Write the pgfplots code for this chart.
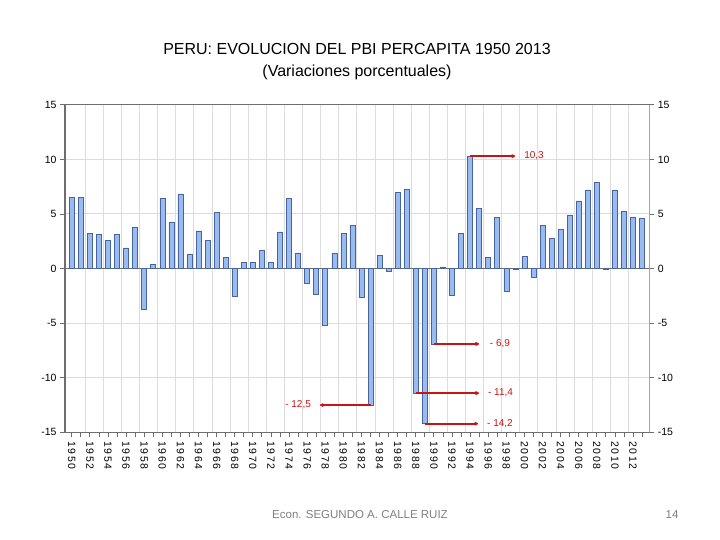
\documentclass[border=0pt]{standalone}
\usepackage{pgfplots}
\pgfplotsset{compat=1.18}
\usepackage{pgfplotstable}
\usepackage{fontspec}
\setmainfont{Liberation Sans}
\usetikzlibrary{arrows.meta}
\definecolor{barfill}{RGB}{153,187,240}
\definecolor{baredge}{RGB}{70,100,160}
\definecolor{annot}{RGB}{200,20,20}
\definecolor{gridc}{RGB}{220,220,220}
\definecolor{axc}{RGB}{110,110,110}

\pgfplotstableread{
year val
1950 6.50
1951 6.55
1952 3.20
1953 3.10
1954 2.60
1955 3.10
1956 1.90
1957 3.76
1958 -3.76
1959 0.37
1960 6.45
1961 4.28
1962 6.85
1963 1.28
1964 3.45
1965 2.60
1966 5.17
1967 1.00
1968 -2.57
1969 0.60
1970 0.55
1971 1.70
1972 0.60
1973 3.37
1974 6.40
1975 1.44
1976 -1.34
1977 -2.38
1978 -5.20
1979 1.38
1980 3.20
1981 3.94
1982 -2.60
1983 -12.50
1984 1.19
1985 -0.20
1986 6.97
1987 7.28
1988 -11.40
1989 -14.20
1990 -6.90
1991 0.16
1992 -2.40
1993 3.20
1994 10.30
1995 5.48
1996 1.00
1997 4.68
1998 -2.05
1999 -0.10
2000 1.10
2001 -0.83
2002 3.95
2003 2.75
2004 3.60
2005 4.90
2006 6.20
2007 7.20
2008 7.88
2009 -0.05
2010 7.20
2011 5.26
2012 4.74
2013 4.62
}\pbi

\begin{document}
\begin{tikzpicture}[x=1pt,y=1pt]
\useasboundingbox (0,0) rectangle (720,540);
\fill[white] (0,0) rectangle (720,540);
\node[font=\fontsize{16}{19}\selectfont] at (357,491) {PERU: EVOLUCION DEL PBI PERCAPITA 1950 2013};
\node[font=\fontsize{16}{19}\selectfont] at (357,468) {(Variaciones porcentuales)};
\node[font=\fontsize{11.5}{14}\selectfont, text=gray] at (360,25) {Econ. SEGUNDO A. CALLE RUIZ};
\node[font=\fontsize{11.5}{14}\selectfont, text=gray] at (672,25) {14};

\begin{axis}[
  at={(65pt,107.6pt)}, anchor=south west,
  scale only axis, width=584.3pt, height=327.6pt,
  xmin=1949.25, xmax=2013.8, ymin=-15, ymax=15,
  ytick={-15,-10,...,15},
  xtick={1950,1952,...,2012},
  minor xtick={1951,1953,...,2013},
  xtick pos=bottom, ytick pos=left,
  tick align=outside,
  major tick length=5pt, minor tick length=5pt,
  every tick/.style={axc, line width=0.8pt},
  x tick label style={/pgf/number format/1000 sep={}, rotate=-90, anchor=west, font=\fontsize{10.5}{12}\selectfont\addfontfeatures{LetterSpace=14}, inner sep=0pt, xshift=4pt},
  y tick label style={font=\fontsize{10.5}{12}\selectfont},
  /pgf/number format/assume math mode=true,
  ymajorgrids=true,
  major grid style={gridc, line width=1pt},
  extra x ticks={1951.5,1953.5,...,2011.5},
  extra x tick labels={},
  extra x tick style={grid=major, major tick length=0pt},
  extra y ticks={0},
  extra y tick labels={},
  extra y tick style={grid=major, major tick length=0pt, major grid style={axc, line width=1pt}},
  axis line style={axc, line width=1.3pt},
  clip=false,
]
\addplot[ybar, bar width=0.55, fill=barfill, draw=baredge, line width=0.55pt] table[x=year,y=val]{\pbi};

\draw[annot, line width=1.8pt, -{Stealth[length=5pt,width=5pt,round]}] (axis cs:1994,10.3) -- (axis cs:1999,10.3);
\node[text=annot, anchor=west, font=\fontsize{10}{12}\selectfont] at (axis cs:1999.6,10.3) {10,3};

\draw[annot, line width=1.8pt, -{Stealth[length=5pt,width=5pt,round]}] (axis cs:1990,-6.9) -- (axis cs:1995,-6.9);
\node[text=annot, anchor=west, font=\fontsize{10}{12}\selectfont] at (axis cs:1995.8,-6.9) {- 6,9};

\draw[annot, line width=1.8pt, -{Stealth[length=5pt,width=5pt,round]}] (axis cs:1988,-11.4) -- (axis cs:1995,-11.4);
\node[text=annot, anchor=west, font=\fontsize{10}{12}\selectfont] at (axis cs:1995.6,-11.4) {- 11,4};

\draw[annot, line width=1.8pt, -{Stealth[length=5pt,width=5pt,round]}] (axis cs:1989,-14.2) -- (axis cs:1994.9,-14.2);
\node[text=annot, anchor=west, font=\fontsize{10}{12}\selectfont] at (axis cs:1995.5,-14.2) {- 14,2};

\draw[annot, line width=1.8pt, -{Stealth[length=5pt,width=5pt,round]}] (axis cs:1983,-12.5) -- (axis cs:1977.4,-12.5);
\node[text=annot, anchor=east, font=\fontsize{10}{12}\selectfont] at (axis cs:1976.8,-12.5) {- 12,5};
\end{axis}

\begin{axis}[
  at={(65pt,107.6pt)}, anchor=south west,
  scale only axis, width=584.3pt, height=327.6pt,
  xmin=1949.25, xmax=2013.8, ymin=-15, ymax=15,
  ytick={-15,-10,...,15},
  hide x axis,
  axis y line*=right,
  tick align=outside,
  major tick length=5pt,
  every tick/.style={axc, line width=0.8pt},
  y tick label style={font=\fontsize{10.5}{12}\selectfont},
  /pgf/number format/assume math mode=true,
  axis line style={gray!70, line width=1.3pt},
]
\addplot[draw=none] coordinates {(1950,0)};
\end{axis}
\end{tikzpicture}
\end{document}
